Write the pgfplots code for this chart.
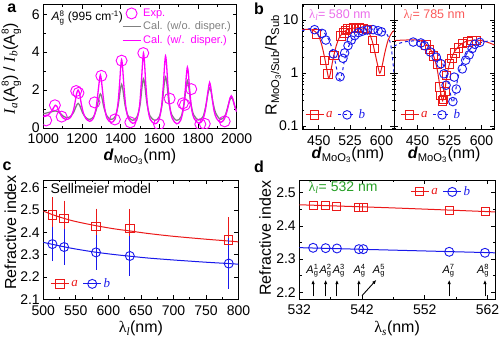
\documentclass[border=0pt]{standalone}
\usepackage{fontspec}
\setmainfont{Liberation Sans}
\newfontfamily\serif{Liberation Serif}
\usepackage{pgfplots}
\pgfplotsset{compat=1.18}
\usetikzlibrary{arrows.meta}
\definecolor{cred}{RGB}{235,25,25}
\definecolor{cblue}{RGB}{25,25,235}
\definecolor{cmag}{RGB}{255,0,255}
\definecolor{cgray}{RGB}{128,128,128}
\definecolor{cpink}{RGB}{235,110,235}
\definecolor{csalmon}{RGB}{250,90,90}
\definecolor{cgreen}{RGB}{40,160,40}
\newcommand{\dmo}{\textbf{\textit{d}}\textsubscript{MoO\textsubscript{3}}(nm)}
\newcommand{\lam}[1]{{\serif λ\textsubscript{\itshape #1}}}
\newcommand{\Ag}[1]{\textit{A}$^{\mbox{\fontsize{7.5}{8}\selectfont #1}}_{\mbox{\fontsize{7.5}{8}\selectfont g}}$}
\pgfplotsset{base/.style={scale only axis, anchor=south west,
  axis line style={line width=0.9pt}, tick style={black, line width=0.7pt},
  major tick length=4pt, minor tick length=2.3pt,
  tick label style={font=\fontsize{14}{15}\selectfont},
  xticklabel style={yshift=-2.5pt},
  label style={font=\fontsize{16}{17}\selectfont},
  /pgf/number format/assume math mode=true, /pgf/number format/1000 sep={},
  legend cell align=left,
  legend style={draw=none, fill=none, font=\fontsize{13}{14}\selectfont,
    /tikz/every even column/.append style={column sep=3pt}},
  legend image code/.code={\draw[mark repeat=2,mark phase=2] plot coordinates {(0pt,0pt)(9pt,0pt)(18pt,0pt)};}
}}
\begin{document}
\begin{tikzpicture}
\useasboundingbox (0pt,0pt) rectangle (499pt,341pt);
% ---------------- a
\begin{axis}[base, at={(43.3pt,213pt)}, width=193.4pt, height=123.3pt,
  xmin=1000, xmax=2000, ymin=0, ymax=6.5,
  xtick={1000,1200,1400,1600,1800,2000}, minor x tick num=1,
  ytick={0,2,4,6}, minor y tick num=1, clip marker paths=true,
  xlabel={\dmo},
  xlabel style={at={(axis description cs:0.5,-0.235)}, anchor=center},
  ylabel={{\serif\itshape I\textsubscript{a}}(A$^{\mbox{\fontsize{10}{10}\selectfont 8}}_{\mbox{\fontsize{10}{10}\selectfont g}}$) / {\serif\itshape I\textsubscript{b}}(A$^{\mbox{\fontsize{10}{10}\selectfont 8}}_{\mbox{\fontsize{10}{10}\selectfont g}}$)},
  ylabel style={at={(axis description cs:-0.165,0.48)}, anchor=center},
  legend style={at={(0.39,1.0)}, anchor=north west, row sep=0pt, font=\fontsize{11}{12}\selectfont}]
\addlegendimage{only marks, mark=o, mark size=5.5pt, cmag, line width=0.9pt}
\addlegendentry{\textcolor{cmag}{Exp.}}
\addlegendimage{cgray, line width=1.3pt}
\addlegendentry{\textcolor{cgray}{Cal. (w/o. disper.)}}
\addlegendimage{cmag, line width=1.3pt}
\addlegendentry{\textcolor{cmag}{Cal. (w/.\ \ disper.)}}
\addplot[cgray, line width=1.3pt, smooth, tension=0.5, forget plot] coordinates {
(1000,0.75)(1020,0.8)(1040,0.85)(1062,0.9)(1080,0.85)(1100,0.65)(1120,0.55)(1140,0.6)(1158,0.85)(1170,1.15)(1180,1.3)(1190,1.15)(1203,0.8)(1220,0.55)(1240,0.45)(1260,0.6)(1275,1.0)(1287,1.55)(1295,1.8)(1303,1.6)(1313,1.1)(1328,0.65)(1350,0.45)(1372,0.6)(1387,1.2)(1398,2.0)(1405,2.3)(1412,2.0)(1423,1.2)(1438,0.65)(1462,0.4)(1485,0.6)(1500,1.2)(1511,2.2)(1518,2.6)(1525,2.25)(1536,1.3)(1551,0.65)(1577,0.4)(1600,0.6)(1615,1.3)(1625,2.3)(1632,2.7)(1639,2.35)(1649,1.4)(1664,0.7)(1690,0.4)(1713,0.6)(1728,1.3)(1738,2.1)(1745,2.5)(1752,2.2)(1762,1.35)(1777,0.7)(1803,0.42)(1826,0.6)(1841,1.2)(1852,1.85)(1860,2.1)(1868,1.9)(1878,1.3)(1893,0.75)(1917,0.45)(1940,0.65)(1955,1.15)(1965,1.5)(1972,1.6)(1980,1.5)(1990,1.15)(2000,0.9)};
\addplot[cmag, line width=1.3pt, smooth, tension=0.5, forget plot] coordinates {
(1000,0.6)(1020,0.65)(1040,0.85)(1055,1.1)(1062,1.2)(1070,1.15)(1085,0.8)(1100,0.55)(1120,0.45)(1140,0.55)(1155,0.9)(1165,1.4)(1172,1.8)(1180,2.0)(1188,1.8)(1196,1.3)(1207,0.8)(1220,0.5)(1240,0.35)(1258,0.5)(1272,1.0)(1282,1.8)(1290,2.5)(1295,2.8)(1300,2.55)(1308,1.8)(1318,1.0)(1330,0.5)(1350,0.3)(1370,0.45)(1385,1.2)(1395,2.4)(1400,3.2)(1405,3.6)(1410,3.2)(1417,2.2)(1427,1.1)(1440,0.5)(1462,0.25)(1482,0.4)(1497,1.1)(1507,2.4)(1513,3.4)(1518,3.95)(1523,3.5)(1530,2.3)(1540,1.1)(1553,0.45)(1577,0.22)(1597,0.4)(1611,1.1)(1621,2.3)(1627,3.3)(1632,3.8)(1637,3.4)(1644,2.3)(1654,1.1)(1667,0.5)(1690,0.22)(1710,0.4)(1724,1.0)(1734,2.0)(1740,2.8)(1745,3.2)(1750,2.9)(1757,2.0)(1767,1.0)(1780,0.5)(1803,0.25)(1823,0.4)(1837,0.9)(1847,1.6)(1854,2.1)(1860,2.4)(1866,2.15)(1873,1.6)(1883,0.9)(1896,0.5)(1917,0.3)(1935,0.45)(1950,0.9)(1960,1.35)(1966,1.6)(1972,1.7)(1978,1.6)(1986,1.3)(1994,1.0)(2000,0.85)};
\addplot[only marks, mark=o, mark size=5.5pt, cmag, line width=0.9pt, forget plot] coordinates {
(1015,0.4)(1060,1.2)(1095,0.6)(1170,1.95)(1182,1.85)(1265,1.35)(1300,2.75)(1370,0.45)(1405,3.55)(1450,0.3)(1517,3.95)(1598,0.2)(1653,1.55)(1722,1.3)(1732,1.22)(1765,2.05)(1812,0.2)(1835,0.22)(1938,0.35)};
\node[anchor=west, font=\fontsize{12}{13}\selectfont] at (rel axis cs:0.025,0.89) {\textit{A}$^{\mbox{\fontsize{8}{8}\selectfont 8}}_{\mbox{\fontsize{8}{8}\selectfont g}}$ (995 cm\textsuperscript{-1})};
\end{axis}
% ---------------- b left
\begin{axis}[base, at={(302pt,211.7pt)}, width=92pt, height=124.6pt,
  xmin=410, xmax=630, ymode=log, ymin=0.087, ymax=19.5,
  xtick={450,525,600}, minor xtick={412.5,487.5,562.5},
  ytick={0.1,1,10}, yticklabels={0.1,1,10},
  minor ytick={0.09,0.2,0.3,0.4,0.5,0.6,0.7,0.8,0.9,2,3,4,5,6,7,8,9},
  xlabel={\dmo},
  xlabel style={at={(axis description cs:0.5,-0.206)}, anchor=center},
  ylabel={R\textsubscript{MoO\textsubscript{3}/Sub}/R\textsubscript{Sub}},
  ylabel style={at={(axis description cs:-0.315,0.516)}, anchor=center},
  legend columns=2, legend style={at={(0.0,0.04)}, anchor=south west}]
\addlegendimage{cred, line width=0.9pt, mark=square, mark size=4.2pt}
\addlegendentry{\textcolor{cred}{\serif\itshape a}}
\addlegendimage{cblue, line width=0.9pt, dashed, mark=o, mark size=4.3pt, mark options={solid}}
\addlegendentry{\textcolor{cblue}{\serif\itshape b}}
\addplot[cred, line width=1pt, smooth, tension=0.5, forget plot] coordinates {
(410,6.6)(425,6.7)(440,6.2)(450,5.0)(458,3.2)(465,1.8)(470,1.1)(474,0.8)(478,1.0)(484,1.8)(492,3.3)(500,4.8)(510,6.0)(520,6.7)(535,7.1)(550,7.2)(560,6.9)(570,5.8)(578,4.0)(585,2.3)(591,1.4)(596,1.0)(601,1.3)(608,2.4)(616,4.2)(625,5.8)(630,6.3)};
\addplot[cblue, line width=1pt, dashed, smooth, tension=0.5, forget plot] coordinates {
(410,6.3)(425,6.8)(440,7.0)(455,6.5)(468,5.2)(478,3.6)(486,2.2)(492,1.3)(497,0.85)(501,0.75)(506,1.0)(512,1.8)(520,3.0)(530,4.3)(545,5.7)(560,6.5)(575,6.8)(590,6.6)(600,6.3)(610,5.8)(618,4.5)(624,2.8)(630,1.0)};
\addplot[only marks, mark=square, mark size=4.2pt, cred, line width=0.9pt, forget plot] coordinates {
(445,5.5)(463,1.75)(472,0.97)(486,2.15)(503,5.0)(510,5.7)(514,6.3)(519,6.8)(526,6.9)(533,7.1)(540,7.0)(548,7.2)(556,7.0)(566,6.7)(578,4.1)(583,2.9)(597,1.1)};
\addplot[only marks, mark=o, mark size=4.3pt, cblue, line width=0.9pt, forget plot] coordinates {
(440,6.6)(458,5.6)(467,4.2)(485,2.3)(501,0.85)(508,1.9)(512,2.4)(520,3.3)(528,4.2)(536,5.1)(545,5.8)(555,6.2)(566,6.5)(580,6.6)(592,6.3)(600,6.0)};
\node[anchor=west, text=cpink, font=\fontsize{12.5}{13}\selectfont] at (rel axis cs:0.04,0.915) {\lam{l}= 580 nm};
\end{axis}
% ---------------- b right
\begin{axis}[base, at={(394pt,211.7pt)}, width=100.3pt, height=124.6pt,
  xmin=395, xmax=630, ymode=log, ymin=0.087, ymax=19.5,
  xtick={450,525,600}, minor xtick={412.5,487.5,562.5},
  ytick={0.1,1,10}, yticklabels={},
  minor ytick={0.09,0.2,0.3,0.4,0.5,0.6,0.7,0.8,0.9,2,3,4,5,6,7,8,9},
  xlabel={\dmo},
  xlabel style={at={(axis description cs:0.5,-0.206)}, anchor=center},
  legend columns=2, legend style={at={(0.03,0.04)}, anchor=south west}]
\addlegendimage{cred, line width=0.9pt, mark=square, mark size=4.2pt}
\addlegendentry{\textcolor{cred}{\serif\itshape a}}
\addlegendimage{cblue, line width=0.9pt, dashed, mark=o, mark size=4.3pt, mark options={solid}}
\addlegendentry{\textcolor{cblue}{\serif\itshape b}}
\addplot[cred, line width=1pt, smooth, tension=0.5, forget plot] coordinates {
(395,4.1)(420,4.2)(450,4.2)(465,3.8)(478,3.0)(488,2.1)(496,1.2)(502,0.6)(506,0.36)(509,0.3)(513,0.4)(518,0.8)(525,1.5)(535,2.4)(548,3.3)(562,3.9)(580,4.2)(600,4.1)(615,3.8)(630,3.4)};
\addplot[cblue, line width=1pt, dashed, smooth, tension=0.5, forget plot] coordinates {
(395,3.2)(410,3.7)(430,4.0)(450,4.0)(470,3.6)(490,2.7)(505,1.8)(515,1.1)(523,0.6)(530,0.32)(534,0.28)(539,0.45)(546,0.9)(555,1.6)(568,2.5)(582,3.3)(600,3.8)(615,4.0)(630,4.0)};
\addplot[only marks, mark=square, mark size=4.2pt, cred, line width=0.9pt, forget plot] coordinates {
(470,3.4)(478,2.8)(488,2.1)(497,1.5)(502,0.55)(505,0.38)(508,0.3)(511,0.32)(514,0.45)(518,0.9)(525,1.5)(531,1.9)(538,2.4)(546,3.0)(556,3.6)(568,3.9)(578,4.1)(588,4.1)};
\addplot[only marks, mark=o, mark size=4.3pt, cblue, line width=0.9pt, forget plot] coordinates {
(440,3.85)(458,3.7)(466,3.3)(480,2.5)(494,2.0)(505,1.5)(512,0.97)(517,0.59)(533,0.29)(536,0.84)(541,0.5)(555,1.2)(563,1.75)(571,2.2)(578,2.9)(584,3.5)(596,3.8)};
\node[anchor=west, text=csalmon, font=\fontsize{12.5}{13}\selectfont] at (rel axis cs:0.06,0.915) {\lam{l}= 785 nm};
\end{axis}
% ---------------- c
\begin{axis}[base, at={(43.3pt,41.7pt)}, width=195.2pt, height=119.3pt,
  xmin=500, xmax=800, ymin=2.1, ymax=2.634,
  xtick={500,550,600,650,700,750,800}, minor x tick num=1,
  ytick={2.1,2.2,2.3,2.4,2.5,2.6},
  yticklabel style={/pgf/number format/fixed, /pgf/number format/precision=1},
  xlabel={\lam{l}(nm)}, ylabel={Refractive index},
  xlabel style={at={(axis description cs:0.5,-0.243)}, anchor=center},
  ylabel style={at={(axis description cs:-0.168,0.56)}, anchor=center},
  legend columns=2, legend style={at={(0.02,0.05)}, anchor=south west}]
\addlegendimage{cred, line width=0.9pt, mark=square, mark size=4.2pt}
\addlegendentry{\textcolor{cred}{\serif\itshape a}}
\addlegendimage{cblue, line width=0.9pt, mark=o, mark size=4.5pt}
\addlegendentry{\textcolor{cblue}{\serif\itshape b}}
\addplot[cred, line width=1pt, smooth, forget plot] coordinates {
(500,2.495)(514,2.479)(532,2.462)(550,2.448)(580,2.430)(610,2.415)(633,2.406)(660,2.395)(700,2.382)(750,2.369)(785,2.361)(800,2.357)};
\addplot[cblue, line width=1pt, smooth, forget plot] coordinates {
(500,2.355)(514,2.346)(532,2.335)(550,2.325)(580,2.311)(610,2.300)(633,2.293)(660,2.285)(700,2.276)(750,2.266)(785,2.260)(800,2.257)};
\addplot[only marks, mark=square, mark size=4.2pt, cred, line width=0.9pt, forget plot,
  error bars/.cd, y dir=both, y explicit, error bar style={line width=0.9pt}, error mark options={cred, mark size=5.5pt, line width=0.9pt}]
  table[x=x, y=y, y error=e] {
x y e
514 2.478 0.056
532 2.462 0.055
581 2.427 0.054
633 2.418 0.062
785 2.365 0.078
};
\addplot[only marks, mark=o, mark size=4.5pt, cblue, line width=0.9pt, forget plot,
  error bars/.cd, y dir=both, y explicit, error bar style={line width=0.9pt}, error mark options={cblue, mark size=5.5pt, line width=0.9pt}]
  table[x=x, y=y, y error=e] {
x y e
514 2.347 0.051
532 2.334 0.054
581 2.310 0.052
633 2.294 0.064
785 2.260 0.088
};
\node[anchor=west, font=\fontsize{14}{15}\selectfont] at (rel axis cs:0.02,0.925) {Sellmeier model};
\end{axis}
% ---------------- d
\begin{axis}[base, at={(299.3pt,42pt)}, width=195.7pt, height=119pt,
  xmin=532, xmax=563.2, ymin=2.18, ymax=2.538,
  xtick={532,542,552,562}, minor x tick num=1,
  ytick={2.2,2.3,2.4,2.5}, minor y tick num=1,
  yticklabel style={/pgf/number format/fixed, /pgf/number format/precision=1},
  xlabel={\lam{s}(nm)}, ylabel={Refractive index},
  xlabel style={at={(axis description cs:0.5,-0.246)}, anchor=center},
  ylabel style={at={(axis description cs:-0.175,0.51)}, anchor=center},
  legend columns=2, legend style={at={(0.9,0.9)}, anchor=east}]
\addlegendimage{cred, line width=0.9pt, mark=square, mark size=4pt}
\addlegendentry{\textcolor{cred}{\serif\itshape a}}
\addlegendimage{cblue, line width=0.9pt, mark=o, mark size=4.5pt}
\addlegendentry{\textcolor{cblue}{\serif\itshape b}}
\addplot[cred, line width=1pt, smooth, forget plot] coordinates {(532,2.4635)(547,2.454)(563.2,2.442)};
\addplot[cblue, line width=1pt, smooth, forget plot] coordinates {(532,2.3345)(547,2.327)(563.2,2.319)};
\addplot[only marks, mark=square, mark size=4pt, cred, line width=0.9pt, forget plot] coordinates {
(534.2,2.462)(536.2,2.460)(538.0,2.458)(541.5,2.455)(542.2,2.455)(555.9,2.446)(561.6,2.443)};
\addplot[only marks, mark=o, mark size=4.5pt, cblue, line width=0.9pt, forget plot] coordinates {
(534.2,2.334)(536.2,2.333)(538.0,2.332)(541.5,2.330)(542.2,2.330)(555.9,2.322)(561.6,2.319)};
\node[anchor=west, text=cgreen, font=\fontsize{14}{15}\selectfont] at (rel axis cs:0.03,0.935) {\lam{l}= 532 nm};
\draw[-{Latex[length=4.5pt,width=3.5pt]}, line width=0.9pt] (axis cs:534.2,2.188) -- (axis cs:534.2,2.238);
\draw[-{Latex[length=4.5pt,width=3.5pt]}, line width=0.9pt] (axis cs:536.2,2.188) -- (axis cs:536.2,2.238);
\draw[-{Latex[length=4.5pt,width=3.5pt]}, line width=0.9pt] (axis cs:538.0,2.188) -- (axis cs:538.0,2.238);
\draw[-{Latex[length=4.5pt,width=3.5pt]}, line width=0.9pt] (axis cs:541.5,2.188) -- (axis cs:541.5,2.238);
\draw[-{Latex[length=4.5pt,width=3.5pt]}, line width=0.9pt] (axis cs:555.9,2.188) -- (axis cs:555.9,2.238);
\draw[-{Latex[length=4.5pt,width=3.5pt]}, line width=0.9pt] (axis cs:561.6,2.188) -- (axis cs:561.6,2.238);
\draw[-{Latex[length=4.5pt,width=3.5pt]}, line width=0.9pt] (axis cs:542.0,2.19) -- (axis cs:544.3,2.238);
\node[font=\fontsize{11}{12}\selectfont, inner sep=0pt] at (axis cs:534.1,2.265) {\Ag{1}};
\node[font=\fontsize{11}{12}\selectfont, inner sep=0pt] at (axis cs:536.2,2.265) {\Ag{2}};
\node[font=\fontsize{11}{12}\selectfont, inner sep=0pt] at (axis cs:538.3,2.265) {\Ag{3}};
\node[font=\fontsize{11}{12}\selectfont, inner sep=0pt] at (axis cs:541.6,2.265) {\Ag{4}};
\node[font=\fontsize{11}{12}\selectfont, inner sep=0pt] at (axis cs:544.7,2.265) {\Ag{5}};
\node[font=\fontsize{11}{12}\selectfont, inner sep=0pt] at (axis cs:555.8,2.265) {\Ag{7}};
\node[font=\fontsize{11}{12}\selectfont, inner sep=0pt] at (axis cs:561.3,2.265) {\Ag{8}};
\end{axis}
% panel letters
\node[font=\bfseries\fontsize{16}{16}\selectfont] at (11.7pt,332.7pt) {a};
\node[font=\bfseries\fontsize{16}{16}\selectfont] at (259pt,332.7pt) {b};
\node[font=\bfseries\fontsize{16}{16}\selectfont] at (7pt,175pt) {c};
\node[font=\bfseries\fontsize{16}{16}\selectfont] at (259pt,174.5pt) {d};
\end{tikzpicture}
\end{document}
